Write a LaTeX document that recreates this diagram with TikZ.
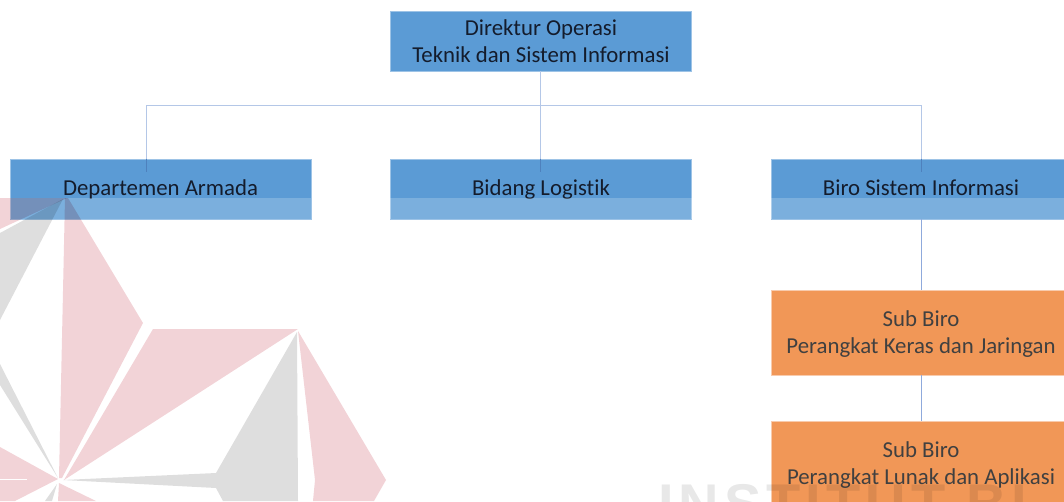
\documentclass[tikz,border=0pt]{standalone}
\usepackage{fontspec}
\setmainfont[Ligatures=NoCommon]{Carlito}
\newfontfamily\wmfont[LetterSpace=9]{Liberation Sans Bold}
\definecolor{boxblue}{HTML}{5B9BD5}
\definecolor{boxblueline}{HTML}{9DC3E6}
\definecolor{boxorange}{HTML}{F19757}
\definecolor{boxorangeline}{HTML}{F8CBAD}
\definecolor{linkcol}{HTML}{B4C7E7}
\definecolor{linkdark}{HTML}{4E81BD}
\definecolor{linkmid}{HTML}{8FAADC}
\definecolor{wmpink}{HTML}{F2D3D7}
\definecolor{wmgrey}{HTML}{DEDEDE}
\definecolor{wmtext}{HTML}{E8E8E8}
\definecolor{bluetext}{HTML}{141C2C}
\definecolor{orangetext}{HTML}{404040}
\newcommand{\pushdir}{\rule{0pt}{16.5pt}}
\newcommand{\pushsub}{\rule{0pt}{19pt}}
\tikzset{
  bluebox/.style={rectangle,fill=boxblue,draw=boxblueline,line width=.8pt,minimum width=301pt,minimum height=60pt,inner sep=0pt,align=center,text=bluetext,font=\fontsize{22.8}{27}\selectfont},
  oneline/.style={text height=17pt,text depth=4pt},
  orangebox/.style={rectangle,fill=boxorange,draw=boxorangeline,line width=.8pt,minimum width=300pt,minimum height=85pt,inner sep=0pt,align=center,text=orangetext,font=\fontsize{22.8}{27}\selectfont},
  link/.style={draw=linkcol,line width=.9pt},
  linkin/.style={draw=linkdark,line width=.8pt},
  linksub/.style={draw=linkmid,line width=.9pt},
  band/.style={fill=white,fill opacity=.2,draw=none},
  pinkwm/.style={fill=wmpink,draw=none},
  greywm/.style={fill=wmgrey,draw=none}
}
\begin{document}
\begin{tikzpicture}[x=1pt,y=-1pt]
\useasboundingbox (0,0) rectangle (1064,501);
\clip (0,0) rectangle (1064,501);
% boxes
\node[bluebox] (dir) at (541,41) {\pushdir Direktur Operasi\\Teknik dan Sistem Informasi};
\node[bluebox,oneline] (dept) at (160.5,189) {Departemen Armada};
\node[bluebox,oneline] (log) at (541,189) {Bidang Logistik};
\node[bluebox,oneline,minimum width=300pt] (biro) at (921,189) {Biro Sistem Informasi};
\node[orangebox] (sub1) at (921,332.5) {\pushsub Sub Biro\\Perangkat Keras dan Jaringan};
\node[orangebox] (sub2) at (921,463.5) {\pushsub Sub Biro\\Perangkat Lunak dan Aplikasi};
% connectors
\coordinate (bus) at (540.7,105);
\coordinate (busl) at (146.7,105);
\coordinate (busr) at (921.3,105);
\coordinate (dl) at (146.7,172);
\coordinate (dm) at (540.7,172);
\coordinate (dr) at (921.3,172);
\draw[link] (dir.south -| bus) -- (bus);
\draw[link] (dept.north -| busl) -- (busl) -- (busr) -- (biro.north -| busr);
\draw[link] (bus) -- (log.north -| bus);
\draw[linkin] (dept.north -| busl) -- (dl);
\draw[linkin] (log.north -| dm) -- (dm);
\draw[linkin] (biro.north -| dr) -- (dr);
\draw[linksub] (biro.south -| dr) -- (sub1.north -| dr);
\draw[linksub] (sub1.south -| dr) -- (sub2.north -| dr);
% lighter band
\fill[band] (dept.west |- 0,198) rectangle (dept.south east);
\fill[band] (log.west |- 0,198) rectangle (log.south east);
\fill[band] (biro.west |- 0,198) rectangle (biro.south east);
% watermark
\begin{scope}[blend mode=multiply]
\fill[pinkwm] (0,198) -- (67,198) -- (0,229) -- cycle;
\fill[pinkwm] (68,198) -- (143,323) -- (62,478) -- (59,478) -- (65,198) -- cycle;
\fill[pinkwm] (153,329) -- (298,329) -- (64,480) -- cycle;
\fill[pinkwm] (298,331) -- (386,480) -- (374,501) -- (313,501) -- (315,480) -- cycle;
\fill[pinkwm] (0,447) -- (58,479) -- (15,501) -- (0,501) -- cycle;
\fill[pinkwm] (59,483) -- (96,501) -- (58,501) -- cycle;
\fill[greywm] (63,199) -- (0,320) -- (0,233) -- cycle;
\fill[greywm] (0,364) -- (58,478) -- (0,385) -- cycle;
\fill[greywm] (297,332) -- (298,501) -- (223,501) -- (216,488) -- (63,480) -- (216,473) -- cycle;
\fill[greywm] (57,484) -- (45,501) -- (52,501) -- cycle;
\node[anchor=base west,inner sep=0pt,text=wmtext,font=\fontsize{56}{56}\wmfont] (wm) at (658,523.5) {INSTITUT BI};
\end{scope}
\fill[white] (0,478.5) rectangle (27,480);
\end{tikzpicture}
\end{document}
